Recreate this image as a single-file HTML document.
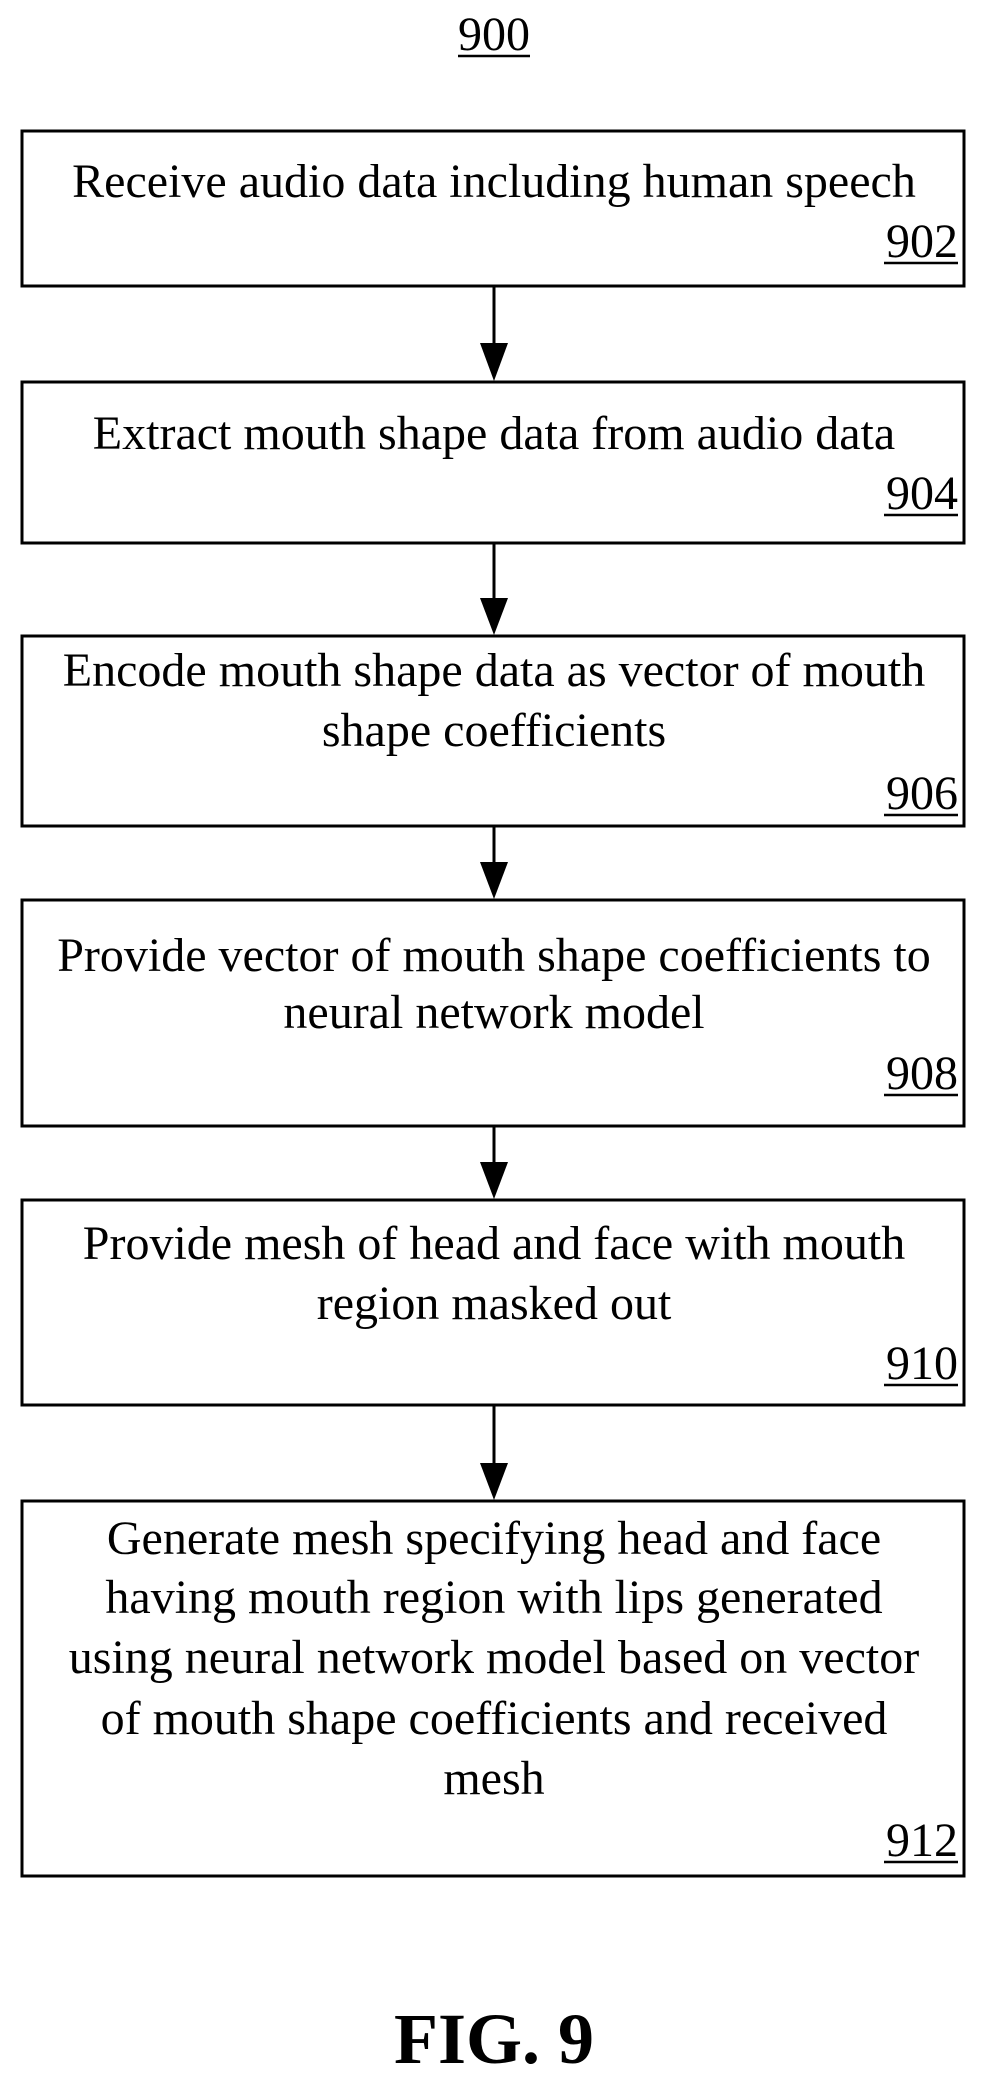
<!DOCTYPE html>
<html><head><meta charset="utf-8"><style>
html,body{margin:0;padding:0;background:#fff;}
svg{display:block;}
text{font-family:"Liberation Serif",serif;fill:#000;}
</style></head><body>
<svg width="987" height="2087" viewBox="0 0 987 2087" xmlns="http://www.w3.org/2000/svg">
<g font-size="48">
<text x="494" y="50" text-anchor="middle">900</text>
<line x1="458" y1="56" x2="530" y2="56" stroke="#000" stroke-width="2.5"/>
</g>
<g fill="none" stroke="#000" stroke-width="3">
<rect x="22" y="131" width="942" height="155"/>
<rect x="22" y="382" width="942" height="161"/>
<rect x="22" y="636" width="942" height="190"/>
<rect x="22" y="900" width="942" height="226"/>
<rect x="22" y="1200" width="942" height="205"/>
<rect x="22" y="1501" width="942" height="375"/>
<line x1="494" y1="286" x2="494" y2="345"/>
<line x1="494" y1="543" x2="494" y2="600"/>
<line x1="494" y1="826" x2="494" y2="864"/>
<line x1="494" y1="1126" x2="494" y2="1164"/>
<line x1="494" y1="1405" x2="494" y2="1465"/>
</g>
<g fill="#000">
<polygon points="480,343 508,343 494,381"/>
<polygon points="480,598 508,598 494,635"/>
<polygon points="480,862 508,862 494,899"/>
<polygon points="480,1162 508,1162 494,1199"/>
<polygon points="480,1463 508,1463 494,1500"/>
</g>
<g font-size="48" text-anchor="middle">
<text x="494" y="197">Receive audio data including human speech</text>
<text x="494" y="449">Extract mouth shape data from audio data</text>
<text x="494" y="686">Encode mouth shape data as vector of mouth</text>
<text x="494" y="746">shape coefficients</text>
<text x="494" y="971">Provide vector of mouth shape coefficients to</text>
<text x="494" y="1028">neural network model</text>
<text x="494" y="1259">Provide mesh of head and face with mouth</text>
<text x="494" y="1319">region masked out</text>
<text x="494" y="1554">Generate mesh specifying head and face</text>
<text x="494" y="1613">having mouth region with lips generated</text>
<text x="494" y="1673">using neural network model based on vector</text>
<text x="494" y="1734">of mouth shape coefficients and received</text>
<text x="494" y="1794">mesh</text>
</g>
<g font-size="48" text-anchor="end">
<text x="958" y="257">902</text>
<text x="958" y="509">904</text>
<text x="958" y="809">906</text>
<text x="958" y="1089">908</text>
<text x="958" y="1379">910</text>
<text x="958" y="1856">912</text>
</g>
<g stroke="#000" stroke-width="2.5">
<line x1="884" y1="263" x2="958" y2="263"/>
<line x1="884" y1="515" x2="958" y2="515"/>
<line x1="884" y1="815" x2="958" y2="815"/>
<line x1="884" y1="1095" x2="958" y2="1095"/>
<line x1="884" y1="1385" x2="958" y2="1385"/>
<line x1="884" y1="1862" x2="958" y2="1862"/>
</g>
<text x="494" y="2063" font-size="72" font-weight="bold" text-anchor="middle">FIG. 9</text>
</svg>
</body></html>
